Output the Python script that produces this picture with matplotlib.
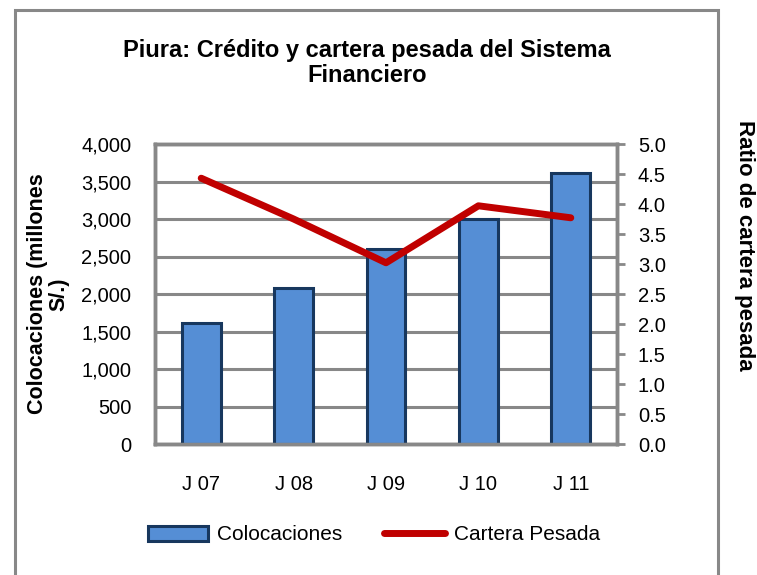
import numpy as np
import matplotlib
matplotlib.use("Agg")
import matplotlib.pyplot as plt
from matplotlib.patches import Rectangle

plt.rcParams['font.family'] = ['Liberation Sans', 'DejaVu Sans']

periodos = ['J 07', 'J 08', 'J 09', 'J 10', 'J 11']
colocaciones = [1620, 2080, 2600, 3000, 3610]
cartera_pesada = [4.43, 3.75, 3.02, 3.97, 3.77]

fig = plt.figure(figsize=(7.57, 5.75), dpi=100)
gris = '#888888'

# marco exterior del grafico
fig.patches.append(Rectangle((15 / 757, -0.05), (718 - 15) / 757, (575 - 10) / 575 + 0.05,
                             transform=fig.transFigure, fill=False, edgecolor=gris, linewidth=2.2))

ax = fig.add_axes([155 / 757, (575 - 444) / 575, (617 - 155) / 757, 300 / 575])
x = np.arange(len(periodos))
ax.bar(x, colocaciones, width=0.42, color='#558ED5', edgecolor='#17375E', linewidth=2.2,
       zorder=3, label='Colocaciones')
ax.set_ylim(0, 4000)
ax.set_xlim(-0.5, 4.5)
ax.set_yticks(np.arange(0, 4001, 500))
ax.set_yticklabels([f'{v:,}' for v in range(0, 4001, 500)])
ax.set_xticks(x)
ax.set_xticklabels(periodos)
ax.yaxis.grid(True, color=gris, linewidth=2.2, zorder=0)
ax.tick_params(axis='both', length=0, labelsize=14.5, pad=17)
ax.tick_params(axis='x', pad=22)
for s in ax.spines.values():
    s.set_color(gris)
    s.set_linewidth(2.5)
ax.set_ylabel('Colocaciones (millones\nS/.)', fontsize=15.5, fontweight='bold',
              linespacing=1.0, va='center', ha='center')
ax.yaxis.set_label_coords((48 - 155) / 462, 0.5)

ax2 = ax.twinx()
ax2.plot(x, cartera_pesada, color='#C00000', linewidth=5, solid_capstyle='round',
         zorder=4, label='Cartera Pesada')
ax2.set_ylim(0, 5)
ax2.set_yticks(np.arange(0, 5.01, 0.5))
ax2.set_yticklabels([f'{v:.1f}' for v in np.arange(0, 5.01, 0.5)])
ax2.tick_params(axis='y', direction='out', length=6, width=2, color=gris, labelsize=14.5, pad=9)
for s in ax2.spines.values():
    s.set_color(gris)
    s.set_linewidth(2.5)
fig.text(745 / 757, 1 - 245 / 575, 'Ratio de cartera pesada', rotation=-90, fontsize=16,
         fontweight='bold', ha='center', va='center')

fig.text(367 / 757, 1 - 63 / 575, 'Piura: Crédito y cartera pesada del Sistema\nFinanciero',
         fontsize=17, fontweight='bold', ha='center', va='center', linespacing=1.1)

h1, l1 = ax.get_legend_handles_labels()
h2, l2 = ax2.get_legend_handles_labels()
fig.legend(h1 + h2, l1 + l2, loc='center', bbox_to_anchor=(374 / 757, 1 - 535 / 575),
           ncol=2, frameon=False, fontsize=15, handlelength=2.9, handletextpad=0.45,
           columnspacing=2.0)

fig.savefig('out.png', dpi=100)
